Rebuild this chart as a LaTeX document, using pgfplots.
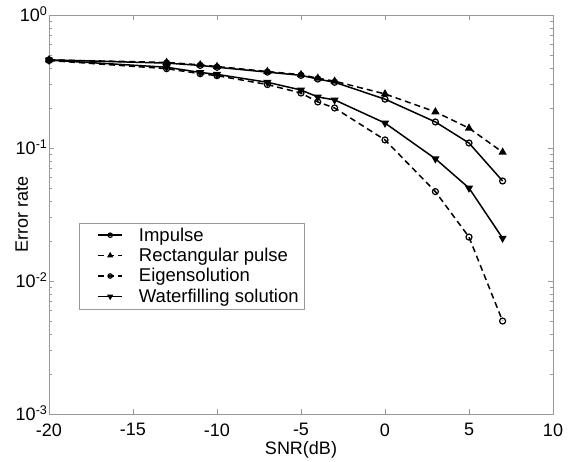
\documentclass[border=0pt]{standalone}
\usepackage{pgfplots}
\pgfplotsset{compat=1.18}
\usepackage{fontspec}
\setmainfont{Liberation Sans}
\begin{document}
\begin{tikzpicture}
\path[use as bounding box] (-49pt,-47pt) rectangle (531pt,414pt);
\begin{axis}[
  at={(0pt,0pt)}, anchor=south west,
  scale only axis, width=504pt, height=399pt,
  ymode=log, xmin=-20, xmax=10, ymin=1e-3, ymax=1,
  xtick={-20,-15,-10,-5,0,5,10},
  xticklabels={-20,-15,-10,-5,0,5,10},
  ytick={1e-3,1e-2,1e-1,1},
  yticklabels={10\textsuperscript{-3},10\textsuperscript{-2},10\textsuperscript{-1},10\textsuperscript{0}},
  tick align=inside,
  axis line style={gray!80},
  every tick/.style={gray!80},
  major tick length=5pt, minor tick length=3pt,
  tick label style={font=\fontsize{18}{18}\selectfont, black},
  xticklabel style={anchor=north, yshift=-6pt},
  yticklabel style={xshift=2pt, yshift=1pt},
  xlabel={SNR(dB)}, ylabel={Error rate},
  label style={font=\fontsize{18}{18}\selectfont},
  xlabel style={at={(axis description cs:0.5,0)}, anchor=center, yshift=-36pt},
  ylabel style={at={(axis description cs:-0.054,0.5)}, anchor=center},
  legend style={at={(axis description cs:0.06,0.263)}, anchor=south west, draw=gray!80,
    font=\fontsize{18.5}{21}\selectfont, row sep=1.5pt, inner xsep=2pt, inner ysep=3pt,
    nodes={inner xsep=4pt}},
  legend cell align=left,
  legend image code/.code={
    \path (0pt,0pt) (52pt,0pt);
    \draw[mark repeat=2, mark phase=2, mark size=2.2pt, line width=1.5pt, #1]
      plot coordinates {(16pt,0pt) (28pt,0pt) (40pt,0pt)};},
]
\addplot[black, line width=1.5pt, solid, mark=o, mark size=3pt, mark options={solid, line width=1.2pt}] coordinates {
(-20,0.46) (-13,0.435) (-11,0.418) (-10,0.405) (-7,0.372) (-5,0.352) (-4,0.33) (-3,0.312) (0,0.233) (3,0.157) (5,0.109) (7,0.0565)};
\addlegendentry{Impulse}
\addplot[black, line width=1.5pt, dash pattern=on 6pt off 4pt, mark=triangle*, mark size=3.3pt, mark options={solid}] coordinates {
(-20,0.46) (-13,0.44) (-11,0.422) (-10,0.41) (-7,0.376) (-5,0.356) (-4,0.335) (-3,0.318) (0,0.255) (3,0.187) (5,0.141) (7,0.093)};
\addlegendentry{Rectangular pulse}
\addplot[black, line width=1.5pt, dash pattern=on 6pt off 4pt, mark=o, mark size=3pt, mark options={solid, line width=1.2pt}] coordinates {
(-20,0.455) (-13,0.395) (-11,0.362) (-10,0.35) (-7,0.3) (-5,0.259) (-4,0.222) (-3,0.2) (0,0.115) (3,0.047) (5,0.0214) (7,0.005)};
\addlegendentry{Eigensolution}
\addplot[black, line width=1.5pt, solid, mark=triangle*, mark size=3.3pt, mark options={solid, rotate=180}] coordinates {
(-20,0.458) (-13,0.405) (-11,0.37) (-10,0.358) (-7,0.312) (-5,0.273) (-4,0.242) (-3,0.23) (0,0.154) (3,0.083) (5,0.05) (7,0.021)};
\addlegendentry{Waterfilling solution}
\end{axis}
\end{tikzpicture}
\end{document}
